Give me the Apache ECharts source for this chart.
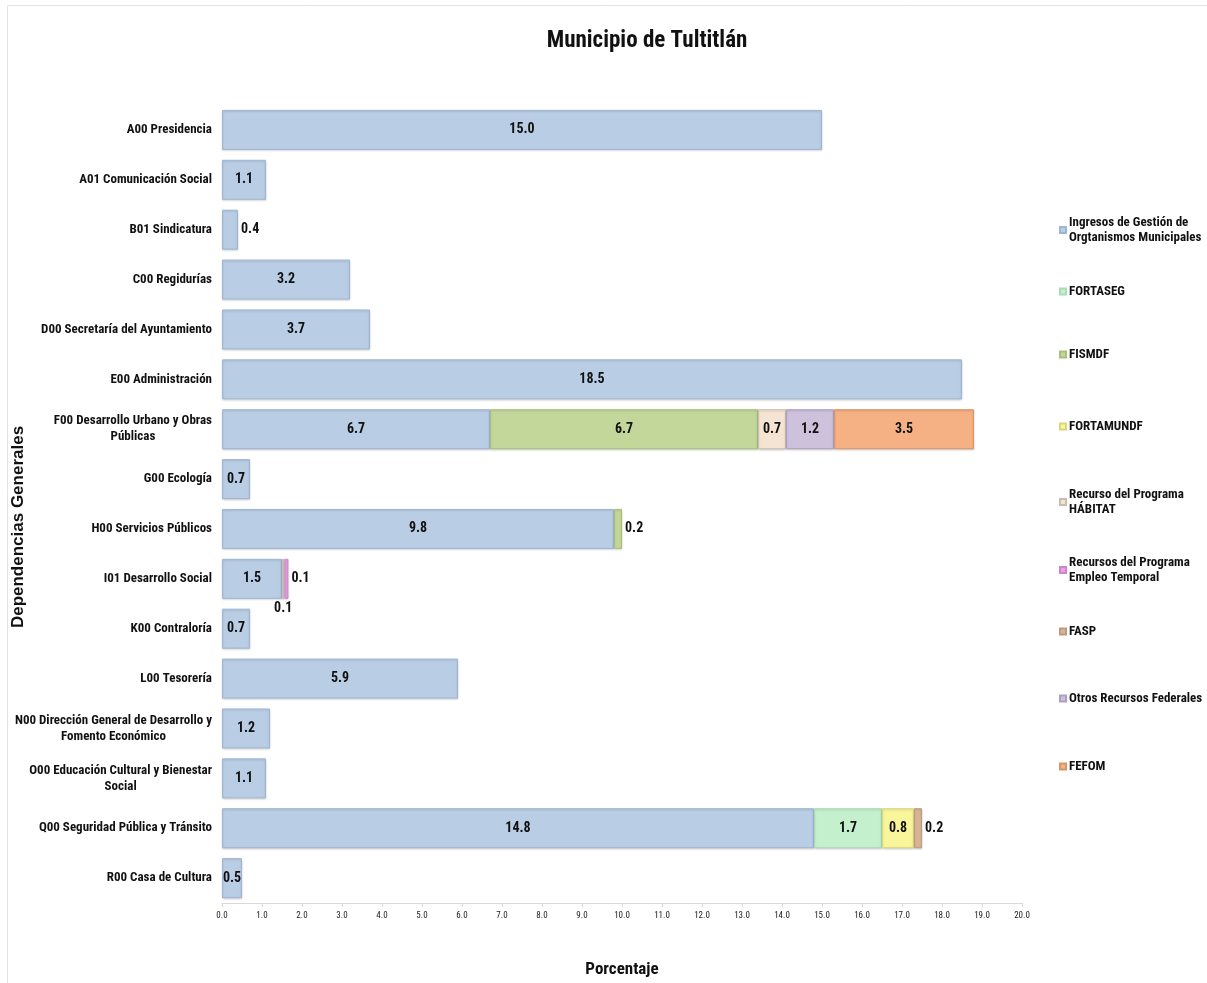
<!DOCTYPE html>
<html>
<head>
<meta charset="utf-8">
<script src="https://cdn.jsdelivr.net/npm/echarts@6/dist/echarts.min.js"></script>
<style>
  html, body { margin: 0; padding: 0; background: #fff; }
  #main { width: 1207px; height: 983px; }
</style>
</head>
<body>
<div id="main"></div>
<script>
var myChart = echarts.init(document.getElementById('main'));

var categories = [
    'A00 Presidencia',
    'A01 Comunicación Social',
    'B01 Sindicatura',
    'C00 Regidurías',
    'D00 Secretaría del Ayuntamiento',
    'E00 Administración',
    'F00 Desarrollo Urbano y Obras\nPúblicas',
    'G00 Ecología',
    'H00 Servicios Públicos',
    'I01 Desarrollo Social',
    'K00 Contraloría',
    'L00 Tesorería',
    'N00 Dirección General de Desarrollo y\nFomento Económico',
    'O00 Educación Cultural y Bienestar\nSocial',
    'Q00 Seguridad Pública y Tránsito',
    'R00 Casa de Cultura'
];

// porcentajes por fuente de financiamiento (0 = sin recurso)
var ingresos   = [15.0, 1.1, 0.4, 3.2, 3.7, 18.5, 6.7, 0.7, 9.8, 1.5, 0.7, 5.9, 1.2, 1.1, 14.8, 0.5];
var fortaseg   = [0, 0, 0, 0, 0, 0, 0, 0, 0, 0, 0, 0, 0, 0, 1.7, 0];
var fismdf     = [0, 0, 0, 0, 0, 0, 6.7, 0, 0.2, 0, 0, 0, 0, 0, 0, 0];
var fortamundf = [0, 0, 0, 0, 0, 0, 0, 0, 0, 0, 0, 0, 0, 0, 0.8, 0];
var habitat    = [0, 0, 0, 0, 0, 0, 0.7, 0, 0, 0.06, 0, 0, 0, 0, 0, 0];
var empleo     = [0, 0, 0, 0, 0, 0, 0, 0, 0, 0.1, 0, 0, 0, 0, 0, 0];
var fasp       = [0, 0, 0, 0, 0, 0, 0, 0, 0, 0, 0, 0, 0, 0, 0.2, 0];
var otros      = [0, 0, 0, 0, 0, 0, 1.2, 0, 0, 0, 0, 0, 0, 0, 0, 0];
var fefom      = [0, 0, 0, 0, 0, 0, 3.5, 0, 0, 0, 0, 0, 0, 0, 0, 0];

var xTicks = [0, 20, 1];

var seriesDefs = [
    { name: 'Ingresos de Gestión de Orgtanismos Municipales', legend: 'Ingresos de Gestión de\nOrgtanismos Municipales', data: ingresos, color: '#b9cde5', border: '#9fb6d3' },
    { name: 'FORTASEG', legend: 'FORTASEG', data: fortaseg, color: '#c4f0cd', border: '#a9dcb5' },
    { name: 'FISMDF', legend: 'FISMDF', data: fismdf, color: '#c4d79b', border: '#a9bf7c' },
    { name: 'FORTAMUNDF', legend: 'FORTAMUNDF', data: fortamundf, color: '#f9f59b', border: '#dcd77a' },
    { name: 'Recurso del Programa HÁBITAT', legend: 'Recurso del Programa\nHÁBITAT', data: habitat, color: '#f6e4d3', border: '#c9bcb0' },
    { name: 'Recursos del Programa Empleo Temporal', legend: 'Recursos del Programa\nEmpleo Temporal', data: empleo, color: '#e6a2e4', border: '#cc86cb' },
    { name: 'FASP', legend: 'FASP', data: fasp, color: '#d9b597', border: '#bf9a7c' },
    { name: 'Otros Recursos Federales', legend: 'Otros Recursos Federales', data: otros, color: '#cdc1db', border: '#ad9fc0' },
    { name: 'FEFOM', legend: 'FEFOM', data: fefom, color: '#f5b184', border: '#d99567' }
];

// etiquetas que van fuera del segmento
var labelPos = {
    '0|2': 'right',
    '2|8': 'right',
    '4|9': 'bottom',
    '5|9': 'right',
    '6|14': 'right'
};

var legendTops = [210, 279, 342, 414, 482, 550, 619, 686, 754];

var cond = '"Roboto Condensed", "Liberation Sans", Arial, sans-serif';

var legends = seriesDefs.map(function (s, i) {
    return {
        data: [s.name],
        orient: 'vertical',
        left: 1054,
        top: legendTops[i],
        icon: 'rect',
        itemWidth: 6,
        itemHeight: 6,
        itemGap: 0,
        selectedMode: false,
        formatter: function () { return s.legend; },
        textStyle: { fontFamily: cond, fontSize: 13, fontWeight: 'bold', color: '#111', lineHeight: 15, padding: [0, 0, 0, -2] }
    };
});

var series = seriesDefs.map(function (s, si) {
    return {
        name: s.name,
        type: 'bar',
        stack: 'total',
        barWidth: 40,
        itemStyle: {
            color: s.color,
            borderColor: s.border,
            borderWidth: 1,
            shadowColor: 'rgba(0,0,0,0.15)',
            shadowBlur: 2,
            shadowOffsetY: 1
        },
        label: {
            show: true,
            position: 'inside',
            fontFamily: cond,
            fontSize: 14,
            fontWeight: 'bold',
            color: '#111',
            formatter: function (p) { return p.value.toFixed(1); }
        },
        data: s.data.map(function (v, ci) {
            if (!v) return '-';
            var pos = labelPos[si + '|' + ci];
            return pos ? { value: v, label: { position: pos, distance: 3 } } : v;
        })
    };
});

option = {
    backgroundColor: '#fff',
    animation: false,
    title: {
        text: 'Municipio de Tultitlán',
        left: 642,
        top: 25,
        textAlign: 'center',
        textStyle: { fontFamily: cond, fontSize: 23, fontWeight: 'bold', color: '#111' }
    },
    legend: legends,
    grid: { left: 222, right: 185, top: 105, bottom: 79 },
    xAxis: {
        type: 'value',
        min: xTicks[0],
        max: xTicks[1],
        interval: xTicks[2],
        name: 'Porcentaje',
        nameLocation: 'middle',
        nameGap: 58,
        nameTextStyle: { fontFamily: cond, fontSize: 17, fontWeight: 'bold', color: '#111' },
        axisLine: { show: true, lineStyle: { color: '#d9d9d9' } },
        axisTick: { show: true, length: 4, lineStyle: { color: '#d9d9d9' } },
        splitLine: { show: false },
        axisLabel: {
            fontFamily: cond,
            fontSize: 9,
            color: '#222',
            margin: 8,
            formatter: function (v) { return v.toFixed(1); }
        }
    },
    yAxis: {
        type: 'category',
        inverse: true,
        data: categories,
        axisLine: { show: false },
        axisTick: { show: false },
        axisLabel: {
            margin: 10,
            formatter: function (v) {
                return v.split('\n').map(function (l) { return '{c|' + l + '}'; }).join('\n');
            },
            rich: {
                c: { fontFamily: cond, fontSize: 13, fontWeight: 'bold', color: '#111', lineHeight: 16, align: 'center' }
            }
        }
    },
    graphic: [{
        type: 'rect',
        silent: true,
        shape: { x: 7.5, y: 5.5, width: 1205, height: 985 },
        style: { fill: 'none', stroke: '#e3e3e3', lineWidth: 1 }
    }, {
        type: 'text',
        silent: true,
        x: 18,
        y: 527,
        rotation: Math.PI / 2,
        style: {
            text: 'Dependencias Generales',
            font: 'bold 17px "Liberation Sans", Arial, sans-serif',
            fill: '#111',
            align: 'center',
            verticalAlign: 'middle'
        }
    }],
    series: series
};

myChart.setOption(option);
</script>
</body>
</html>
